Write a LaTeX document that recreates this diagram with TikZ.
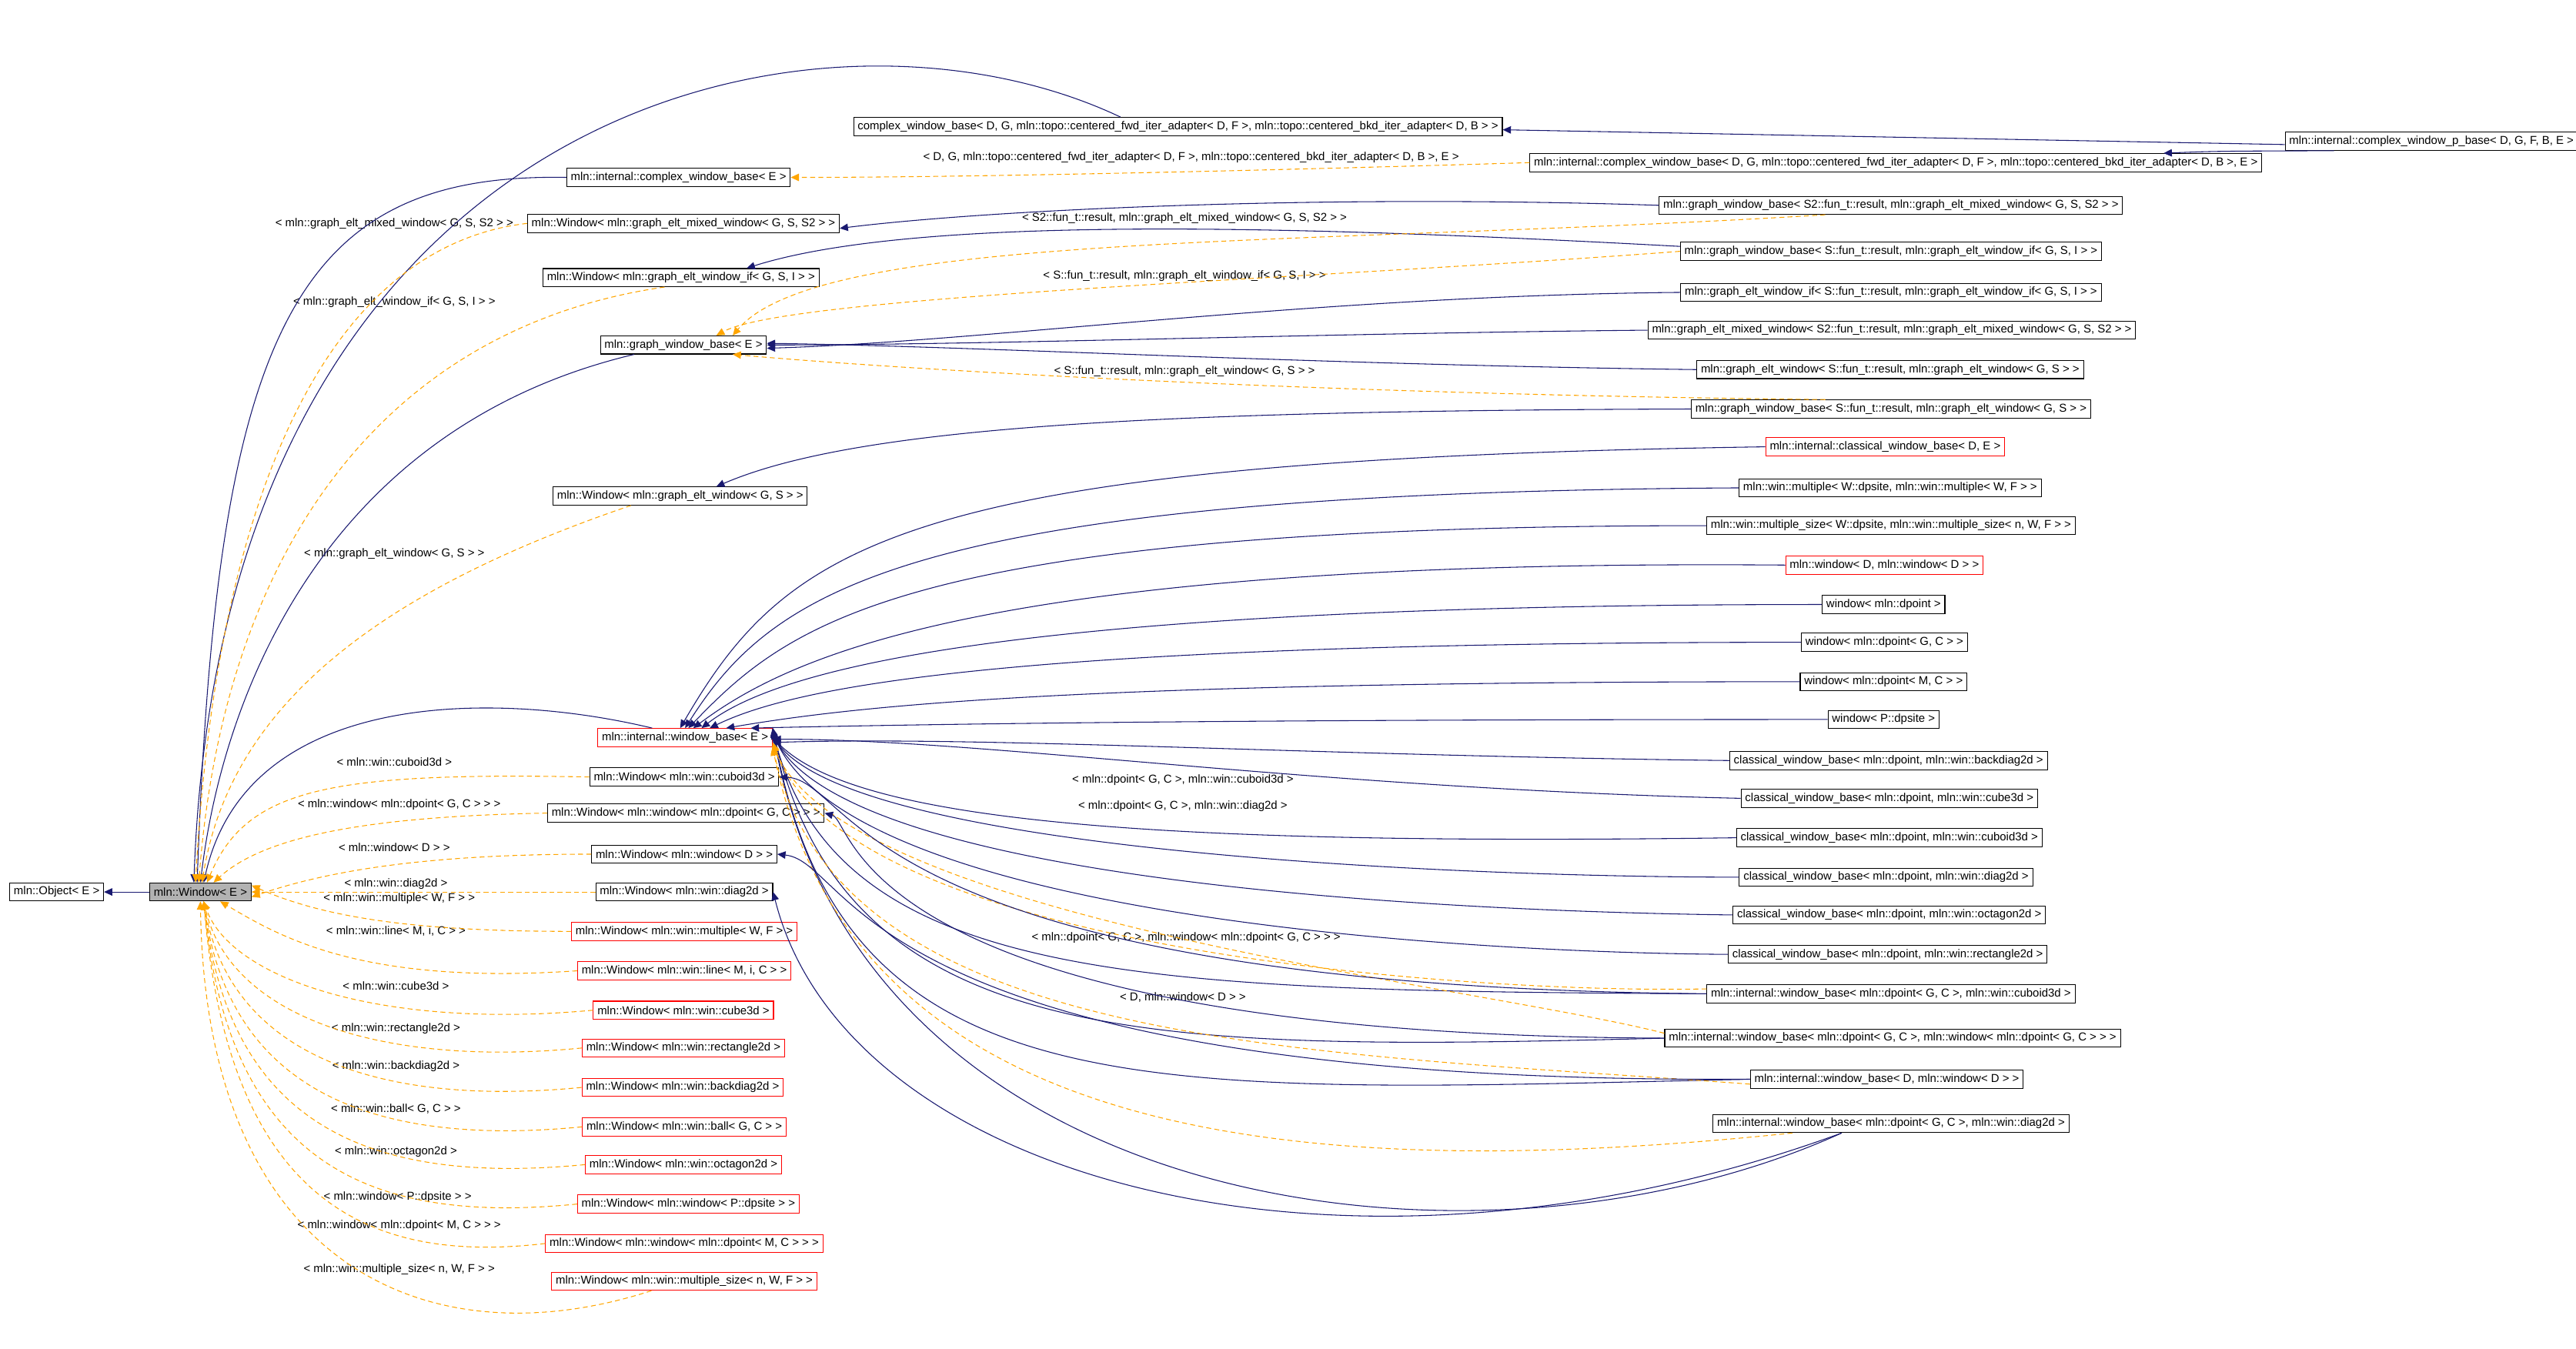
\documentclass[tikz,border=0pt]{standalone}
\usepackage{fontspec}
\setmainfont{Liberation Sans}
\usetikzlibrary{arrows.meta}
\definecolor{navy}{RGB}{25,25,112}
\definecolor{dorange}{RGB}{255,165,0}
\begin{document}
\begin{tikzpicture}[x=1pt,y=-1pt,
  every node/.style={font=\fontsize{7}{7.5}\selectfont},
  bx/.style={draw=black,line width=0.5pt,inner xsep=2.5pt,inner ysep=0pt,minimum height=11pt},
  rbx/.style={bx,draw=red},
  lbl/.style={inner sep=0pt},
  inh/.style={draw=navy,line width=0.5pt,-{Triangle[length=5pt,width=4.5pt]}},
  tpl/.style={draw=dorange,line width=0.5pt,dash pattern=on 3pt off 2pt,-{Triangle[length=5pt,width=4.5pt]}}]
\useasboundingbox (0,0) rectangle (1568,821);
% left
\node[bx] (Obj) at (34.5,543) {mln::Object< E >};
\node[bx,fill=black!30] (Win) at (122,543) {mln::Window< E >};
% middle column
\node[bx] (cwb) at (413,108) {mln::internal::complex\_window\_base< E >};
\node[bx] (Wmix) at (416,136) {mln::Window< mln::graph\_elt\_mixed\_window< G, S, S2 > >};
\node[bx] (Wif) at (414.5,169) {mln::Window< mln::graph\_elt\_window\_if< G, S, I > >};
\node[bx] (gwb) at (416,210) {mln::graph\_window\_base< E >};
\node[bx] (Welt) at (414,302) {mln::Window< mln::graph\_elt\_window< G, S > >};
\node[rbx] (iwb) at (417,449) {mln::internal::window\_base< E >};
\node[bx] (Wcub) at (416.5,473) {mln::Window< mln::win::cuboid3d >};
\node[bx] (Wwin) at (417.5,495) {mln::Window< mln::window< mln::dpoint< G, C > > >};
\node[bx] (WD) at (416.5,520) {mln::Window< mln::window< D > >};
\node[bx] (Wdiag) at (416.5,543) {mln::Window< mln::win::diag2d >};
\node[rbx] (Wmul) at (416.5,567) {mln::Window< mln::win::multiple< W, F > >};
\node[rbx] (Wline) at (416.5,591) {mln::Window< mln::win::line< M, i, C > >};
\node[rbx] (Wcube) at (416,615) {mln::Window< mln::win::cube3d >};
\node[rbx] (Wrect) at (416,638) {mln::Window< mln::win::rectangle2d >};
\node[rbx] (Wback) at (415.5,662) {mln::Window< mln::win::backdiag2d >};
\node[rbx] (Wball) at (416.5,686) {mln::Window< mln::win::ball< G, C > >};
\node[rbx] (Woct) at (416,709) {mln::Window< mln::win::octagon2d >};
\node[rbx] (Wps) at (419,733) {mln::Window< mln::window< P::dpsite > >};
\node[rbx] (WMC) at (416.5,757) {mln::Window< mln::window< mln::dpoint< M, C > > >};
\node[rbx] (Wms) at (416.5,780) {mln::Window< mln::win::multiple\_size< n, W, F > >};
% right top
\node[bx] (cwbfull) at (717,77) {complex\_window\_base< D, G, mln::topo::centered\_fwd\_iter\_adapter< D, F >, mln::topo::centered\_bkd\_iter\_adapter< D, B > >};
\node[bx] (icwp) at (1480,86) {mln::internal::complex\_window\_p\_base< D, G, F, B, E >};
\node[bx] (icwbfull) at (1154,99) {mln::internal::complex\_window\_base< D, G, mln::topo::centered\_fwd\_iter\_adapter< D, F >, mln::topo::centered\_bkd\_iter\_adapter< D, B >, E >};
\node[bx] (gS2) at (1151,125) {mln::graph\_window\_base< S2::fun\_t::result, mln::graph\_elt\_mixed\_window< G, S, S2 > >};
\node[bx] (gIf) at (1151,153) {mln::graph\_window\_base< S::fun\_t::result, mln::graph\_elt\_window\_if< G, S, I > >};
\node[bx] (eIf) at (1151,178) {mln::graph\_elt\_window\_if< S::fun\_t::result, mln::graph\_elt\_window\_if< G, S, I > >};
\node[bx] (eMix) at (1151.5,201) {mln::graph\_elt\_mixed\_window< S2::fun\_t::result, mln::graph\_elt\_mixed\_window< G, S, S2 > >};
\node[bx] (eElt) at (1150.5,225) {mln::graph\_elt\_window< S::fun\_t::result, mln::graph\_elt\_window< G, S > >};
\node[bx] (gElt) at (1151,249) {mln::graph\_window\_base< S::fun\_t::result, mln::graph\_elt\_window< G, S > >};
\node[rbx] (cDE) at (1147.5,272) {mln::internal::classical\_window\_base< D, E >};
\node[bx] (mul) at (1150.5,297) {mln::win::multiple< W::dpsite, mln::win::multiple< W, F > >};
\node[bx] (msz) at (1151,320) {mln::win::multiple\_size< W::dpsite, mln::win::multiple\_size< n, W, F > >};
\node[rbx] (wDD) at (1147,344) {mln::window< D, mln::window< D > >};
\node[bx] (wdp) at (1146.5,368) {window< mln::dpoint >};
\node[bx] (wGC) at (1147,391) {window< mln::dpoint< G, C > >};
\node[bx] (wMC) at (1146.5,415) {window< mln::dpoint< M, C > >};
\node[bx] (wP) at (1146.5,438) {window< P::dpsite >};
\node[bx] (cBack) at (1149.5,463) {classical\_window\_base< mln::dpoint, mln::win::backdiag2d >};
\node[bx] (cCube) at (1150,486) {classical\_window\_base< mln::dpoint, mln::win::cube3d >};
\node[bx] (cCub) at (1150,510) {classical\_window\_base< mln::dpoint, mln::win::cuboid3d >};
\node[bx] (cDiag) at (1148,534) {classical\_window\_base< mln::dpoint, mln::win::diag2d >};
\node[bx] (cOct) at (1150,557) {classical\_window\_base< mln::dpoint, mln::win::octagon2d >};
\node[bx] (cRect) at (1149,581) {classical\_window\_base< mln::dpoint, mln::win::rectangle2d >};
\node[bx] (iCub) at (1151,605) {mln::internal::window\_base< mln::dpoint< G, C >, mln::win::cuboid3d >};
\node[bx] (iWin) at (1152,632) {mln::internal::window\_base< mln::dpoint< G, C >, mln::window< mln::dpoint< G, C > > >};
\node[bx] (iD) at (1148.5,657) {mln::internal::window\_base< D, mln::window< D > >};
\node[bx] (iDiag) at (1151,684) {mln::internal::window\_base< mln::dpoint< G, C >, mln::win::diag2d >};
% labels
\node[lbl] (l1) at (240,136) {< mln::graph\_elt\_mixed\_window< G, S, S2 > >};
\node[lbl] (l2) at (240,184) {< mln::graph\_elt\_window\_if< G, S, I > >};
\node[lbl] (l3) at (240,337) {< mln::graph\_elt\_window< G, S > >};
\node[lbl] (l4) at (240,464) {< mln::win::cuboid3d >};
\node[lbl] (l5) at (243,490) {< mln::window< mln::dpoint< G, C > > >};
\node[lbl] (l6) at (240,516) {< mln::window< D > >};
\node[lbl] (l7) at (241,538) {< mln::win::diag2d >};
\node[lbl] (l8) at (243,547) {< mln::win::multiple< W, F > >};
\node[lbl] (l9) at (241,567) {< mln::win::line< M, i, C > >};
\node[lbl] (l10) at (241,600) {< mln::win::cube3d >};
\node[lbl] (l11) at (241,626) {< mln::win::rectangle2d >};
\node[lbl] (l12) at (241,649) {< mln::win::backdiag2d >};
\node[lbl] (l13) at (241,675) {< mln::win::ball< G, C > >};
\node[lbl] (l14) at (241,701) {< mln::win::octagon2d >};
\node[lbl] (l15) at (242,729) {< mln::window< P::dpsite > >};
\node[lbl] (l16) at (243,746) {< mln::window< mln::dpoint< M, C > > >};
\node[lbl] (l17) at (243,773) {< mln::win::multiple\_size< n, W, F > >};
\node[lbl] (r1) at (725,96) {< D, G, mln::topo::centered\_fwd\_iter\_adapter< D, F >, mln::topo::centered\_bkd\_iter\_adapter< D, B >, E >};
\node[lbl] (r2) at (721,133) {< S2::fun\_t::result, mln::graph\_elt\_mixed\_window< G, S, S2 > >};
\node[lbl] (r3) at (721,168) {< S::fun\_t::result, mln::graph\_elt\_window\_if< G, S, I > >};
\node[lbl] (r4) at (721,226) {< S::fun\_t::result, mln::graph\_elt\_window< G, S > >};
\node[lbl] (r5) at (720,475) {< mln::dpoint< G, C >, mln::win::cuboid3d >};
\node[lbl] (r6) at (720,491) {< mln::dpoint< G, C >, mln::win::diag2d >};
\node[lbl] (r7) at (722,571) {< mln::dpoint< G, C >, mln::window< mln::dpoint< G, C > > >};
\node[lbl] (r8) at (720,607) {< D, mln::window< D > >};
% inheritance to Win
\draw[inh] (Win) -- (Obj);
\draw[inh] ([xshift=-35pt]cwbfull.north) .. controls (500,-15) and (135,60) .. ([xshift=-4pt]Win.north);
\draw[inh] (cwb.west) .. controls (180,105) and (132,200) .. ([xshift=-2pt]Win.north);
\draw[inh] ([xshift=-30pt]gwb.south) .. controls (200,260) and (136,420) .. ([xshift=0pt]Win.north);
\draw[inh] ([xshift=-20pt]iwb.north) .. controls (300,420) and (150,420) .. ([xshift=2pt]Win.north);
% templates to Win
\draw[tpl] (Wmix.west) .. controls (200,150) and (132,300) .. ([xshift=-3pt]Win.north);
\draw[tpl] ([xshift=-10pt]Wif.south) .. controls (230,200) and (136,340) .. ([xshift=-1pt]Win.north);
\draw[tpl] ([xshift=-30pt]Welt.south) .. controls (230,360) and (140,430) .. ([xshift=1pt]Win.north);
\draw[tpl] (Wcub.west) .. controls (200,470) and (150,480) .. ([xshift=4pt]Win.north);
\draw[tpl] (Wwin.west) .. controls (220,497) and (160,510) .. ([xshift=8pt]Win.north);
\draw[tpl] (WD.west) .. controls (260,520) and (200,530) .. ([yshift=-3pt]Win.east);
\draw[tpl] (Wdiag.west) -- (Win.east);
\draw[tpl] (Wmul.west) .. controls (260,567) and (200,560) .. ([yshift=4pt]Win.east);
\draw[tpl] (Wline.west) .. controls (220,600) and (170,570) .. ([xshift=12pt]Win.south);
\foreach \n/\yy in {Wcube/615,Wrect/638,Wback/662,Wball/686,Woct/709,Wps/733,WMC/757}{
  \draw[tpl] (\n.west) .. controls (230,\yy+12) and (140,\yy-20) .. ([xshift=2pt]Win.south);
}
\draw[tpl] ([xshift=-20pt]Wms.south) .. controls (260,830) and (125,770) .. (Win.south);
% complex
\draw[inh] ([yshift=-2pt]icwp.west) -- ([yshift=-2pt]cwbfull.east);
\draw[inh] ([xshift=30pt]icwp.south west) .. controls (1350,92) .. ([xshift=-60pt]icwbfull.north east);
\draw[tpl] (icwbfull.west) .. controls (800,103) and (600,108) .. (cwb.east);
% graph
\draw[inh] (gS2.west) .. controls (800,118) and (600,128) .. ([yshift=-3pt]Wmix.east);
\draw[inh] ([yshift=3pt]gIf.west) .. controls (800,138) and (560,130) .. ([xshift=40pt]Wif.north);
\draw[inh] (eIf.west) .. controls (800,180) and (600,208) .. ([yshift=-2pt]gwb.east);
\draw[inh] (eMix.west) .. controls (800,203) and (600,210) .. (gwb.east);
\draw[inh] (eElt.west) .. controls (800,222) and (600,211) .. ([yshift=1pt]gwb.east);
\draw[tpl] ([xshift=-40pt]gS2.south) .. controls (800,150) and (500,140) .. ([xshift=30pt]gwb.north);
\draw[tpl] (gIf.west) .. controls (800,170) and (480,180) .. ([xshift=20pt]gwb.north);
\draw[tpl] ([xshift=-40pt]gElt.north) .. controls (800,240) and (550,225) .. ([xshift=30pt]gwb.south);
\draw[inh] (gElt.west) .. controls (700,250) and (520,260) .. ([xshift=22pt]Welt.north);
% window_base
\draw[inh] (cDE.west) .. controls (550,280) and (480,330) .. ([xshift=-3pt]iwb.north);
\draw[inh] (mul.west) .. controls (550,300) and (470,360) .. ([xshift=0pt]iwb.north);
\draw[inh] (msz.west) .. controls (550,320) and (480,380) .. ([xshift=2pt]iwb.north);
\draw[inh] (wDD.west) .. controls (600,340) and (480,400) .. ([xshift=5pt]iwb.north);
\draw[inh] (wdp.west) .. controls (600,368) and (470,410) .. ([xshift=10pt]iwb.north);
\draw[inh] (wGC.west) .. controls (600,391) and (480,420) .. ([xshift=15pt]iwb.north);
\draw[inh] (wMC.west) .. controls (650,415) and (520,430) .. ([xshift=25pt]iwb.north);
\draw[inh] (wP.west) .. controls (800,438) and (600,440) .. ([xshift=40pt]iwb.north);
\draw[inh] (cBack.west) .. controls (800,460) and (600,448) .. ([yshift=-3pt]iwb.east);
\draw[inh] (cCube.west) .. controls (800,480) and (600,450) .. ([yshift=-1pt]iwb.east);
\draw[inh] (cCub.west) .. controls (700,515) and (520,500) .. ([yshift=0pt]iwb.east);
\draw[inh] (cDiag.west) .. controls (900,534) and (520,520) .. ([yshift=1pt]iwb.east);
\draw[inh] (cOct.west) .. controls (900,555) and (520,540) .. ([yshift=2pt]iwb.east);
\draw[inh] (cRect.west) .. controls (900,580) and (520,560) .. ([yshift=3pt]iwb.east);
\draw[inh] (iCub.west) .. controls (700,603) and (510,600) .. ([yshift=4pt]iwb.east);
\draw[inh] (iWin.west) .. controls (700,640) and (515,640) .. ([yshift=5pt]iwb.east);
\draw[inh] (iD.west) .. controls (700,665) and (512,680) .. ([yshift=6pt]iwb.east);
\draw[inh] ([xshift=-30pt]iDiag.south) .. controls (900,790) and (520,740) .. ([yshift=5pt]iwb.east);
\draw[tpl] ([yshift=3pt]iCub.west) .. controls (900,605) and (515,580) .. ([yshift=-3pt]iwb.east);
\draw[tpl] ([yshift=3pt]iWin.west) .. controls (900,600) and (515,560) .. ([yshift=-4pt]iwb.east);
\draw[tpl] ([yshift=-3pt]iD.west) .. controls (800,640) and (510,640) .. ([yshift=-5pt]iwb.east);
\draw[tpl] ([xshift=-60pt]iDiag.south) .. controls (800,720) and (520,700) .. ([yshift=-6pt]iwb.east);
\draw[inh] (iCub.west) .. controls (520,600) and (520,475) .. (Wcub.east);
\draw[inh] (iWin.west) .. controls (520,630) and (520,500) .. (Wwin.east);
\draw[inh] (iD.west) .. controls (520,660) and (520,525) .. (WD.east);
\draw[inh] ([xshift=-30pt]iDiag.south) .. controls (820,800) and (515,720) .. (Wdiag.east);
\end{tikzpicture}
\end{document}
